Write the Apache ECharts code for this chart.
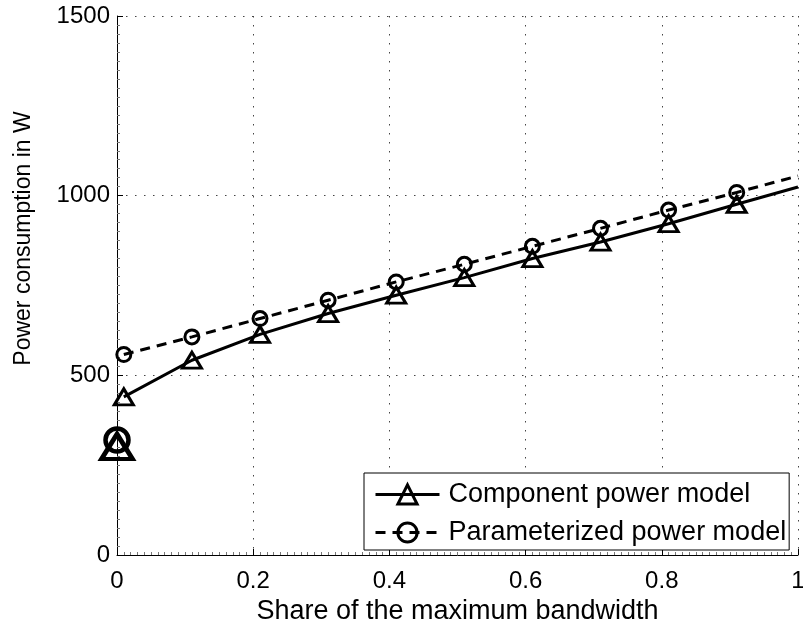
<!DOCTYPE html>
<html>
<head>
<meta charset="utf-8">
<script src="https://cdn.jsdelivr.net/npm/echarts@6/dist/echarts.min.js"></script>
<style>
  html, body { margin: 0; padding: 0; background: #fff; }
  #chart { width: 803px; height: 624px; }
</style>
</head>
<body>
<div id="chart"></div>
<script>
// ---- data ----
const shareX = [0.01, 0.11, 0.21, 0.31, 0.41, 0.51, 0.61, 0.71, 0.81, 0.91];
const endX = 1;
const componentY = [440, 542, 614, 672, 723, 772, 825, 871, 922, 976];
const componentEndY = 1024;
const parameterizedY = [558, 607, 658, 709, 760, 809, 859, 909, 960, 1009];
const parameterizedEndY = 1055;
const idleX = 0;
const componentIdleY = 302;
const parameterizedIdleY = 320;
const xTicks = [0, 0.2, 0.4, 0.6, 0.8, 1];
const yTicks = [0, 500, 1000, 1500];
const seriesNames = ['Component power model', 'Parameterized power model'];

const FONT = '"Liberation Sans", Arial, Helvetica, sans-serif';

function buildLine(ys, endY) {
  const d = shareX.map((x, i) => [x, ys[i]]);
  d.push({ value: [endX, endY], symbol: 'none' });
  return d;
}

const chart = echarts.init(document.getElementById('chart'), null, { renderer: 'canvas' });

const gridDots = { color: '#444', width: 1, type: [1.5, 7.5] };

chart.setOption({
  animation: false,
  backgroundColor: '#fff',
  grid: { left: 117, right: 5, top: 16, bottom: 69, containLabel: false, outerBoundsMode: 'none' },
  xAxis: {
    type: 'value',
    min: xTicks[0], max: xTicks[xTicks.length - 1], interval: 0.2,
    name: 'Share of the maximum bandwidth',
    nameLocation: 'middle', nameGap: 50,
    nameTextStyle: { fontFamily: FONT, fontSize: 27, color: '#000', verticalAlign: 'middle' },
    axisLine: { show: true, onZero: false, lineStyle: { color: '#000', width: 1 } },
    axisTick: { show: true, inside: true, length: 6, lineStyle: { color: '#000' } },
    minorTick: { show: true, splitNumber: 20, length: 3, lineStyle: { color: '#777' } },
    axisLabel: { fontFamily: FONT, fontSize: 24, color: '#000', margin: 14,
      formatter: v => String(v) },
    splitLine: { show: true, lineStyle: gridDots }
  },
  yAxis: {
    type: 'value',
    min: yTicks[0], max: yTicks[yTicks.length - 1], interval: 500,
    name: 'Power consumption in W',
    nameLocation: 'middle', nameGap: 82,
    nameTextStyle: { fontFamily: FONT, fontSize: 23, color: '#000', padding: [0, 0, 0, 94] },
    axisLine: { show: true, onZero: false, lineStyle: { color: '#000', width: 1 } },
    axisTick: { show: true, inside: true, length: 6, lineStyle: { color: '#000' } },
    minorTick: { show: true, splitNumber: 20, length: 3, lineStyle: { color: '#777' } },
    axisLabel: { fontFamily: FONT, fontSize: 24, color: '#000', margin: 7,
      formatter: v => String(v) },
    splitLine: { show: true, lineStyle: gridDots }
  },
  legend: {
    data: seriesNames,
    orient: 'vertical',
    left: 364, top: 473,
    padding: [8, 3, 4, 10],
    itemWidth: 64, itemHeight: 24, itemGap: 11,
    borderColor: '#000', borderWidth: 1, borderRadius: 0,
    backgroundColor: '#fff',
    lineStyle: { width: 3 },
    itemStyle: { borderWidth: 3 },
    textStyle: { fontFamily: FONT, fontSize: 27, color: '#000', lineHeight: 24, padding: [0, 0, 0, 4] }
  },
  series: [
    {
      name: seriesNames[0], type: 'line',
      data: buildLine(componentY, componentEndY),
      symbol: 'triangle', symbolSize: [19, 16], showAllSymbol: true,
      lineStyle: { color: '#000', width: 3 },
      itemStyle: { color: 'rgba(0,0,0,0)', borderColor: '#000', borderWidth: 3 },
      z: 3
    },
    {
      name: seriesNames[1], type: 'line',
      data: buildLine(parameterizedY, parameterizedEndY),
      symbol: 'circle', symbolSize: 14, showAllSymbol: true,
      lineStyle: { color: '#000', width: 3, type: [10, 7] },
      itemStyle: { color: 'rgba(0,0,0,0)', borderColor: '#000', borderWidth: 3 },
      z: 3
    },
    {
      name: 'componentIdle', type: 'scatter',
      data: [[idleX, componentIdleY]],
      symbol: 'triangle', symbolSize: [31, 25], clip: false,
      itemStyle: { color: 'rgba(0,0,0,0)', borderColor: '#000', borderWidth: 4.5, opacity: 1 },
      z: 4
    },
    {
      name: 'parameterizedIdle', type: 'scatter',
      data: [[idleX, parameterizedIdleY]],
      symbol: 'circle', symbolSize: 23, clip: false,
      itemStyle: { color: 'rgba(0,0,0,0)', borderColor: '#000', borderWidth: 4.5, opacity: 1 },
      z: 4
    }
  ]
});
</script>
</body>
</html>
